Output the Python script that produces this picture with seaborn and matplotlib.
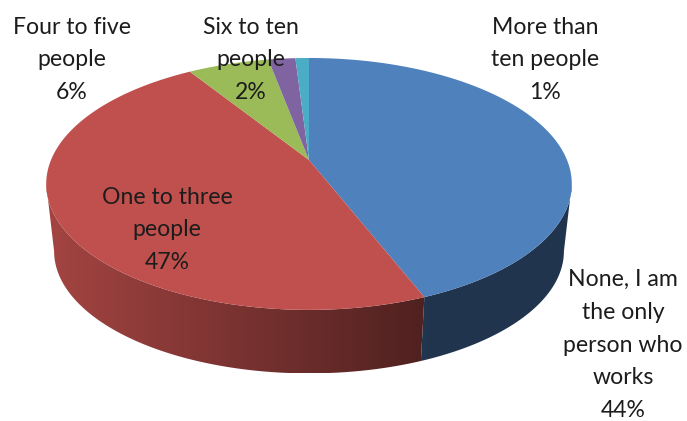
import numpy as np
import matplotlib
matplotlib.use("Agg")
import matplotlib.pyplot as plt
from matplotlib.patches import Polygon
import seaborn as sns

# Survey answers, clockwise from twelve o'clock
answers = [
    "None, I am\nthe only\nperson who\nworks",
    "One to three\npeople",
    "Four to five\npeople",
    "Six to ten\npeople",
    "More than\nten people",
]
shares = [44, 47, 6, 2, 1]
slice_colors = ["#4f81bd", "#c0504d", "#9bbb59", "#8064a2", "#4bacc6"]

# Where each label block is centred
label_x = [623, 167, 72, 251, 545]
label_y = [345, 230, 60, 60, 60]

# Perspective model of the tilted disc, in figure pixels
APEX_X, APEX_Y = 309.0, 160.0
HALF_W, HALF_D, TILT = 258.0, 121.4, 0.19
BASE_SCALE, BASE_APEX_Y = 0.97, 228.0


def project(theta, scale=1.0, apex_y=APEX_Y):
    """Map clockwise angles from the top of the disc to screen points."""
    c, s = np.sin(theta), np.cos(theta)
    w = 1 + TILT * s
    return APEX_X + scale * HALF_W * c / w, apex_y - scale * HALF_D * s / w


def wall_shade(x):
    """Brightness of the rim, dimming from the left towards the front right."""
    return np.interp(x, [50, 428], [0.85, 0.41])


sns.set_theme(style="white", palette=slice_colors)
plt.rcParams["font.family"] = ["Lato", "DejaVu Sans"]

fig, ax = plt.subplots(figsize=(6.87, 4.21), dpi=100)
ax.set_position([0, 0, 1, 1])
ax.set_xlim(0, 687)
ax.set_ylim(421, 0)
ax.axis("off")

colors = sns.color_palette(slice_colors)
edges = np.radians(np.concatenate([[0], np.cumsum(shares)]) * 3.6)
front_limit = np.arccos(-TILT)

# Rim first, so the top face sits over it
for i, color in enumerate(colors):
    lo = max(edges[i], front_limit)
    hi = min(edges[i + 1], 2 * np.pi - front_limit)
    if hi <= lo:
        continue
    t = np.linspace(lo, hi, 160)
    top_x, top_y = project(t)
    low_x, low_y = project(t, BASE_SCALE, BASE_APEX_Y)
    outline = np.r_[np.c_[top_x, top_y], np.c_[low_x, low_y][::-1]]
    rim = Polygon(outline, closed=True, fc="none", ec="none")
    ax.add_patch(rim)
    x0, x1 = outline[:, 0].min(), outline[:, 0].max()
    xs = np.linspace(x0, x1, 300)
    ramp = np.clip(np.outer(wall_shade(xs), color), 0, 1)[None, :, :]
    im = ax.imshow(ramp, extent=(x0, x1, outline[:, 1].max(), outline[:, 1].min()),
                   aspect="auto", interpolation="bilinear", zorder=2)
    im.set_clip_path(rim)

# Top face of every slice
for i, color in enumerate(colors):
    t = np.linspace(edges[i], edges[i + 1], 200)
    x, y = project(t)
    ax.add_patch(Polygon(np.r_[[[APEX_X, APEX_Y]], np.c_[x, y]], closed=True,
                         fc=color, ec="none", zorder=3))

ax.set_xlim(0, 687)
ax.set_ylim(421, 0)

for name, share, x, y in zip(answers, shares, label_x, label_y):
    ax.text(x, y, f"{name}\n{share}%", ha="center", va="center", ma="center",
            fontsize=16.6, color="#1c1c1c", linespacing=1.7, zorder=5)

fig.savefig("out.png", dpi=100)
